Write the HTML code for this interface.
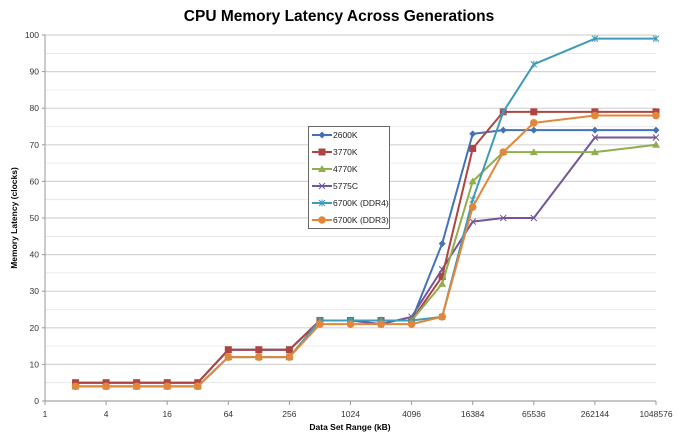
<!DOCTYPE html>
<html><head><meta charset="utf-8"><style>body{margin:0;background:#fff}svg{display:block;font-family:"Liberation Sans",sans-serif}</style></head>
<body>
<svg id="s" width="678" height="439" xmlns="http://www.w3.org/2000/svg">
<text x="339" y="21" text-anchor="middle" font-size="15.5" font-weight="bold" fill="#000">CPU Memory Latency Across Generations</text>
<g id="grid"></g>
<text transform="translate(17,218) rotate(-90)" text-anchor="middle" font-size="8.5" font-weight="bold">Memory Latency (clocks)</text>
<text x="350" y="430" text-anchor="middle" font-size="8.5" font-weight="bold">Data Set Range (kB)</text>
<g id="series"></g>
<g id="legend"></g>
</svg>
<script>
const NS="http://www.w3.org/2000/svg";
const X0=45,X1=656,Y0=401,Y1=35;
const px=l=>X0+(X1-X0)*l/20, py=v=>Y0-(Y0-Y1)*v/100;
function el(t,a,p,txt){const e=document.createElementNS(NS,t);for(const k in a)e.setAttribute(k,a[k]);if(txt!=null)e.textContent=txt;p.appendChild(e);return e;}
const g=document.getElementById('grid');
for(let v=0;v<=100;v+=5){el('line',{x1:X0,x2:X1,y1:py(v),y2:py(v),stroke:v%10?'#e4e4e4':'#d4d4d4','stroke-width':v%10?0.8:1.2},g);}
for(let v=0;v<=100;v+=10){el('text',{x:X0-6,y:py(v)+3,'text-anchor':'end','font-size':8.5,fill:'#333'},g,v);el('line',{x1:X0-3,x2:X0,y1:py(v),y2:py(v),stroke:'#999'},g);}
el('line',{x1:X0,x2:X0,y1:Y1,y2:Y0,stroke:'#999'},g);
el('line',{x1:X0,x2:X1,y1:Y0,y2:Y0,stroke:'#999'},g);
for(let l=0;l<=20;l+=2){el('line',{x1:px(l),x2:px(l),y1:Y0,y2:Y0+4,stroke:'#999'},g);el('text',{x:px(l),y:Y0+16,'text-anchor':'middle','font-size':8.5,fill:'#333'},g,Math.pow(2,l));}
const L=[1,2,3,4,5,6,7,8,9,10,11,12,13,14,15,16,18,20];
const S=[
["2600K","#4472b4","d",[5,5,5,5,5,14,14,14,22,22,22,22,43,73,74,74,74,74]],
["3770K","#ae4542","s",[5,5,5,5,5,14,14,14,22,22,22,22,34,69,79,79,79,79]],
["4770K","#8fae4e","t",[4,4,4,4,4,12,12,12,22,22,22,22,32,60,68,68,68,70]],
["5775C","#73569a","x",[5,5,5,5,5,14,14,14,22,22,21,23,36,49,50,50,72,72]],
["6700K (DDR4)","#3f9bb6","a",[4,4,4,4,4,12,12,12,22,22,22,22,23,55,79,92,99,99]],
["6700K (DDR3)","#e0873b","c",[4,4,4,4,4,12,12,12,21,21,21,21,23,53,68,76,78,78]]];
function mark(p,t,c,x,y){
 if(t=="d")el('path',{d:`M${x} ${y-3.5}L${x+3.5} ${y}L${x} ${y+3.5}L${x-3.5} ${y}Z`,fill:c},p);
 else if(t=="s")el('rect',{x:x-3.5,y:y-3.5,width:7,height:7,fill:c},p);
 else if(t=="t")el('path',{d:`M${x} ${y-4}L${x+4} ${y+3}L${x-4} ${y+3}Z`,fill:c},p);
 else if(t=="c")el('circle',{cx:x,cy:y,r:3.8,fill:c},p);
 else{el('path',{d:`M${x-3} ${y-3}L${x+3} ${y+3}M${x+3} ${y-3}L${x-3} ${y+3}`+(t=="a"?`M${x} ${y-3.5}V${y+3.5}`:''),stroke:c,'stroke-width':1,fill:'none'},p);}
}
const sg=document.getElementById('series');
[3,0,1,2,4,5].map(i=>S[i]).forEach(s=>{const pts=s[3].map((v,i)=>[px(L[i]),py(v)]);
 el('polyline',{points:pts.map(p=>p.join(',')).join(' '),fill:'none',stroke:s[1],'stroke-width':2,'stroke-linejoin':'round'},sg);
 pts.forEach(p=>mark(sg,s[2],s[1],p[0],p[1]));});
const lg=document.getElementById('legend');
el('rect',{x:308.5,y:126.5,width:81,height:102,fill:'#fff',stroke:'#666'},lg);
S.forEach((s,i)=>{const y=135+i*17;el('line',{x1:312,x2:332,y1:y,y2:y,stroke:s[1],'stroke-width':2},lg);mark(lg,s[2],s[1],322,y);el('text',{x:333,y:y+3,'font-size':8.5,fill:'#222'},lg,s[0]);});
</script>
</body></html>
